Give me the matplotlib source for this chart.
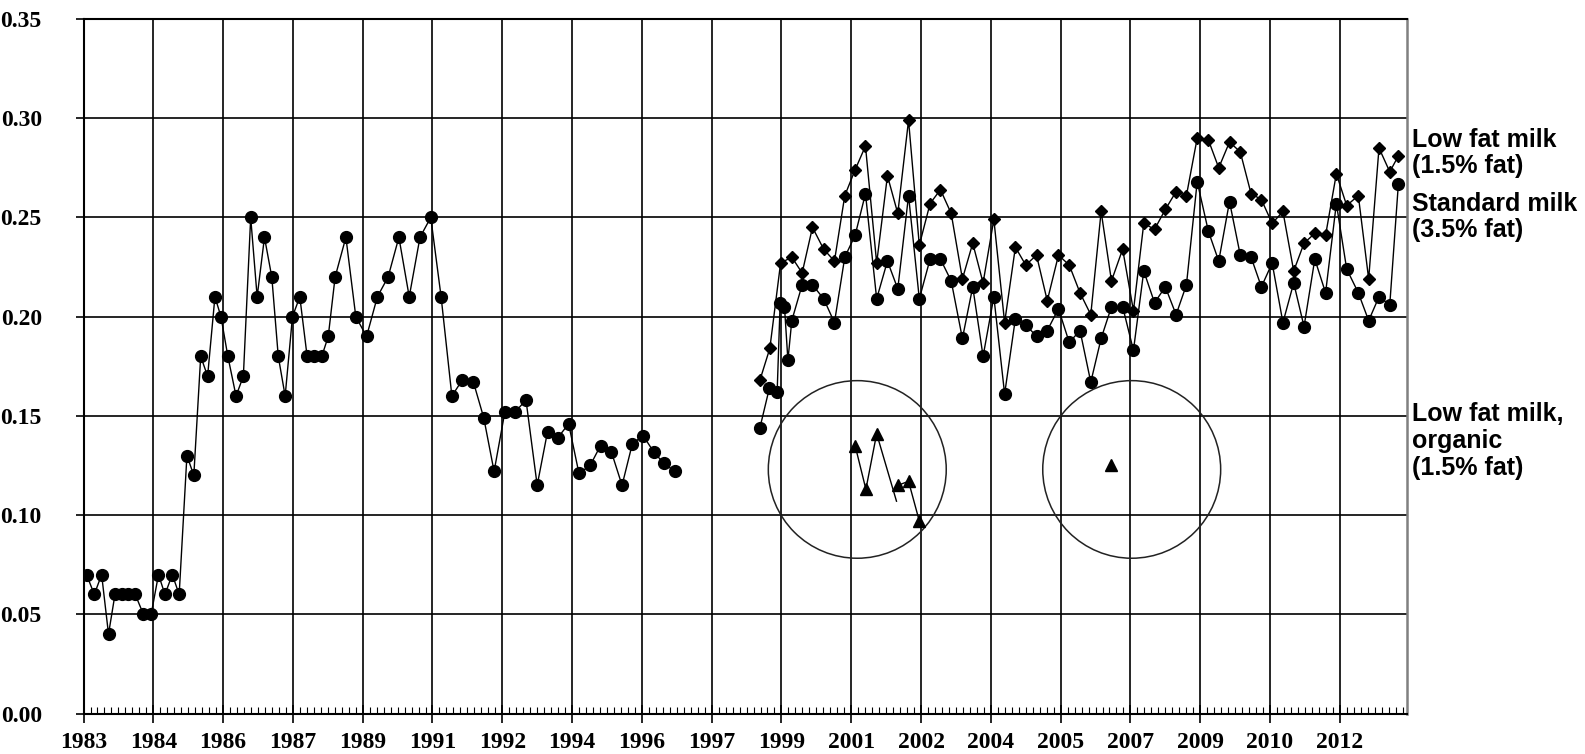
import numpy as np
import matplotlib.pyplot as plt
from matplotlib.patches import Ellipse
from matplotlib.ticker import FixedLocator

# standard milk (3.5% fat), first period
std_x1 = [1983.32, 1983.50, 1983.67, 1983.83, 1983.98, 1984.14, 1984.29, 1984.45, 1984.64, 1984.82,
          1984.99, 1985.14, 1985.31, 1985.47, 1985.65, 1985.81, 1985.97, 1986.13, 1986.30, 1986.44,
          1986.60, 1986.79, 1986.96, 1987.13, 1987.28, 1987.45, 1987.62, 1987.77, 1987.93, 1988.10,
          1988.27, 1988.44, 1988.61, 1988.78, 1988.93, 1989.09, 1989.34, 1989.57, 1989.82, 1990.07,
          1990.32, 1990.57, 1990.81, 1991.06, 1991.31, 1991.55, 1991.80, 1992.04, 1992.30, 1992.54,
          1992.78, 1993.03, 1993.27, 1993.52, 1993.78, 1994.02, 1994.26, 1994.51, 1994.75, 1995.01,
          1995.25, 1995.50, 1995.75, 1995.99, 1996.24, 1996.48, 1996.72, 1996.98]
std_y1 = [0.07, 0.06, 0.07, 0.04, 0.06, 0.06, 0.06, 0.06, 0.05, 0.05,
          0.07, 0.06, 0.07, 0.06, 0.13, 0.12, 0.18, 0.17, 0.21, 0.20,
          0.18, 0.16, 0.17, 0.25, 0.21, 0.24, 0.22, 0.18, 0.16, 0.20,
          0.21, 0.18, 0.18, 0.18, 0.19, 0.22, 0.24, 0.20, 0.19, 0.21,
          0.22, 0.24, 0.21, 0.24, 0.25, 0.21, 0.16, 0.168, 0.167, 0.149,
          0.122, 0.152, 0.152, 0.158, 0.115, 0.142, 0.139, 0.146, 0.121, 0.125,
          0.135, 0.132, 0.115, 0.136, 0.140, 0.132, 0.126, 0.122]

# standard milk (3.5% fat), second period
std_x2 = [1998.95, 1999.17, 1999.35, 1999.42, 1999.52, 1999.60, 1999.69, 1999.93, 2000.17, 2000.43,
          2000.68, 2000.92, 2001.16, 2001.40, 2001.66, 2001.91, 2002.15, 2002.40, 2002.65, 2002.90,
          2003.14, 2003.39, 2003.65, 2003.89, 2004.13, 2004.38, 2004.63, 2004.88, 2005.12, 2005.37,
          2005.62, 2005.88, 2006.13, 2006.38, 2006.63, 2006.87, 2007.11, 2007.37, 2007.62, 2007.86,
          2008.11, 2008.36, 2008.61, 2008.85, 2009.10, 2009.36, 2009.60, 2009.85, 2010.10, 2010.35,
          2010.59, 2010.84, 2011.09, 2011.34, 2011.58, 2011.83, 2012.08, 2012.33, 2012.57, 2012.84,
          2013.08, 2013.32, 2013.57, 2013.77]
std_y2 = [0.144, 0.164, 0.162, 0.207, 0.205, 0.178, 0.198, 0.216, 0.216, 0.209,
          0.197, 0.230, 0.241, 0.262, 0.209, 0.228, 0.214, 0.261, 0.209, 0.229,
          0.229, 0.218, 0.189, 0.215, 0.180, 0.210, 0.161, 0.199, 0.196, 0.190,
          0.193, 0.204, 0.187, 0.193, 0.167, 0.189, 0.205, 0.205, 0.183, 0.223,
          0.207, 0.215, 0.201, 0.216, 0.268, 0.243, 0.228, 0.258, 0.231, 0.230,
          0.215, 0.227, 0.197, 0.217, 0.195, 0.229, 0.212, 0.257, 0.224, 0.212,
          0.198, 0.210, 0.206, 0.267]

# low fat milk (1.5% fat)
low_x = [1998.95, 1999.18, 1999.43, 1999.69, 1999.93, 2000.17, 2000.43, 2000.68, 2000.92, 2001.16,
         2001.40, 2001.66, 2001.91, 2002.15, 2002.40, 2002.65, 2002.90, 2003.14, 2003.39, 2003.65,
         2003.89, 2004.13, 2004.38, 2004.63, 2004.88, 2005.12, 2005.37, 2005.62, 2005.88, 2006.13,
         2006.38, 2006.63, 2006.87, 2007.11, 2007.37, 2007.62, 2007.86, 2008.11, 2008.36, 2008.61,
         2008.85, 2009.10, 2009.36, 2009.60, 2009.85, 2010.10, 2010.35, 2010.59, 2010.84, 2011.09,
         2011.34, 2011.58, 2011.83, 2012.08, 2012.33, 2012.57, 2012.84, 2013.08, 2013.32, 2013.57, 2013.77]
low_y = [0.168, 0.184, 0.227, 0.230, 0.222, 0.245, 0.234, 0.228, 0.261, 0.274,
         0.286, 0.227, 0.271, 0.252, 0.299, 0.236, 0.257, 0.264, 0.252, 0.219,
         0.237, 0.217, 0.249, 0.197, 0.235, 0.226, 0.231, 0.208, 0.231, 0.226,
         0.212, 0.201, 0.253, 0.218, 0.234, 0.203, 0.247, 0.244, 0.254, 0.263,
         0.261, 0.290, 0.289, 0.275, 0.288, 0.283, 0.262, 0.259, 0.247, 0.253,
         0.223, 0.237, 0.242, 0.241, 0.272, 0.256, 0.261, 0.219, 0.285, 0.273, 0.281]

# low fat milk, organic (nan = break in the line)
org_x = [2001.16, 2001.41, 2001.66, 2002.12, np.nan, 2002.15, 2002.40, 2002.65, np.nan, 2007.11]
org_y = [0.135, 0.113, 0.141, 0.107, np.nan, 0.115, 0.117, 0.097, np.nan, 0.125]
org_marked = [0, 1, 2, 5, 6, 7, 9]

# circled areas (centre year, centre value)
circles = [(2001.21, 0.123), (2007.58, 0.123)]

year_labels = ['1983', '1984', '1986', '1987', '1989', '1991', '1992', '1994', '1996', '1997',
               '1999', '2001', '2002', '2004', '2005', '2007', '2009', '2010', '2012']
tick_start = 1983.25
tick_step = 1.62

fig = plt.figure(figsize=(15.85, 7.54), dpi=100)
ax = fig.add_axes([0.0527, 0.0537, 0.835, 0.9211])

ax.plot(std_x1, std_y1, '-o', color='black', lw=1.0, ms=8.5, zorder=3)
ax.plot(std_x2, std_y2, '-o', color='black', lw=1.0, ms=8.5, zorder=3)
ax.plot(low_x, low_y, '-D', color='black', lw=1.0, ms=6.3, zorder=4)
ax.plot(org_x, org_y, '-^', color='black', lw=1.0, ms=8.5, markevery=org_marked, zorder=4)

for cx, cy in circles:
    ax.add_patch(Ellipse((cx, cy), 4.13, 0.0895, fill=False, edgecolor='#222222', lw=1.1, zorder=2))

ax.set_xlim(1983.25, 2013.97)
ax.set_ylim(0, 0.35)

major = [tick_start + k * tick_step for k in range(len(year_labels))]
ax.set_xticks(major)
ax.set_xticklabels(year_labels)
minor = np.arange(tick_start, 2013.97, tick_step / 10)
ax.xaxis.set_minor_locator(FixedLocator(minor))

ax.set_yticks(np.arange(0, 0.351, 0.05))
ax.set_yticklabels(['%.2f' % v for v in np.arange(0, 0.351, 0.05)])

ax.grid(True, which='major', color='black', lw=1.2)
ax.set_axisbelow(True)

for lab in ax.get_xticklabels() + ax.get_yticklabels():
    lab.set_family('Liberation Serif')
    lab.set_fontweight('bold')
    lab.set_fontsize(17)

ax.tick_params(axis='x', which='major', direction='inout', length=13, width=1.2, pad=7)
ax.tick_params(axis='x', which='minor', direction='in', length=5, width=0.8)
ax.tick_params(axis='y', which='major', direction='out', length=6, width=1.2, pad=24)

for s in ['left', 'bottom', 'top']:
    ax.spines[s].set_linewidth(1.5)
    ax.spines[s].set_color('black')
ax.spines['right'].set_color('#808080')
ax.spines['right'].set_linewidth(1.8)

txt = dict(ha='left', va='center', fontsize=18, fontweight='bold',
           family='Liberation Sans', linespacing=1.15)
fig.text(0.891, 1 - 153 / 754, 'Low fat milk\n(1.5% fat)', **txt)
fig.text(0.891, 1 - 217 / 754, 'Standard milk\n(3.5% fat)', **txt)
fig.text(0.891, 1 - 441 / 754, 'Low fat milk,\norganic\n(1.5% fat)', **txt)

fig.savefig('out.png', dpi=100)
